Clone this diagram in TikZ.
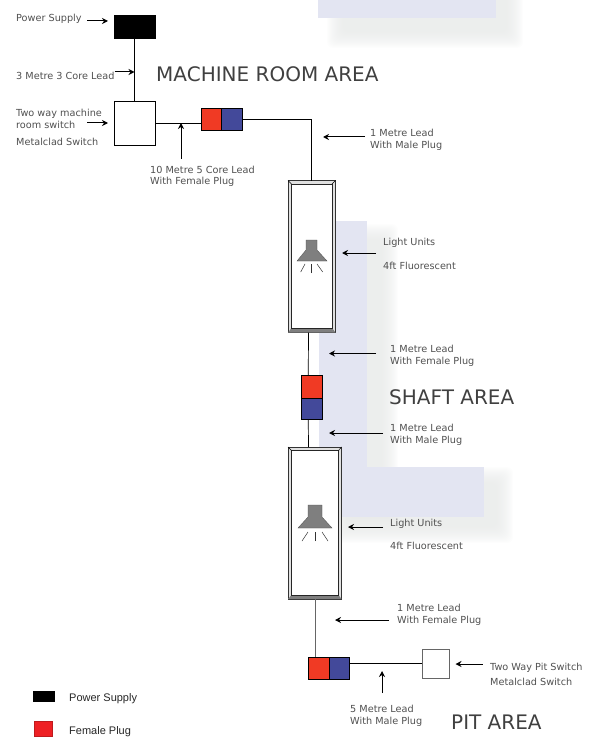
\documentclass[tikz,border=0pt]{standalone}
\usepackage{fontspec}
\setmainfont{DejaVu Sans}
\newfontfamily\legendfont{Liberation Sans}
\usetikzlibrary{arrows.meta}
\definecolor{plugred}{HTML}{F03A24}
\definecolor{plugblue}{HTML}{43499A}
\definecolor{legendred}{HTML}{EE2024}
\definecolor{areablue}{HTML}{E3E5F2}
\definecolor{shadowgrey}{HTML}{E6E8E7}
\definecolor{notegrey}{HTML}{505050}
\definecolor{bevelgrey}{HTML}{7F7F7F}
\tikzset{
  note/.style={anchor=west, inner sep=0pt, yshift=-.8pt, align=left, text=notegrey, font=\fontsize{9.7}{11.8}\selectfont},
  area/.style={anchor=west, inner sep=0pt, text=black!75, font=\fontsize{20}{22}\selectfont},
  legend/.style={anchor=west, inner sep=0pt, yshift=-1.5pt, text=black!85, font=\legendfont\fontsize{11}{13}\selectfont},
  box/.style={draw=black, line width=.7pt, fill=white, anchor=north west, inner sep=0pt, outer sep=0pt},
  plug/.style={draw=black, line width=.7pt, anchor=north west, inner sep=0pt, outer sep=0pt},
  frame/.style={draw=black!80, line width=.7pt, fill=black!12, anchor=north west, inner sep=0pt, outer sep=0pt},
  pane/.style={draw=black!85, line width=.7pt, fill=white, anchor=north west, inner sep=0pt, outer sep=0pt},
  lead/.style={line width=.7pt, black},
  point/.style={line width=1pt, -{Stealth[length=6pt, width=6pt]}, black},
  lamp/.style={fill=bevelgrey, draw=black!70, line width=.3pt},
  ray/.style={line width=.5pt, black!80}
}
\newcommand{\softshadow}[4]{%
  \foreach \d in {0,1,...,16}
    \fill[shadowgrey, opacity=.08, rounded corners=6pt] (#1+\d,#2+\d) rectangle (#3-\d,#4-\d);
}
\begin{document}
\begin{tikzpicture}[x=1pt, y=-1pt]
  \useasboundingbox (0,0) rectangle (599,738);
  % shaded area blocks
  \softshadow{327}{-20}{523}{48}
  \softshadow{342}{224}{398}{525}
  \softshadow{330}{467}{513}{543}
  \fill[areablue] (318,0) rectangle (496,18);
  \fill[areablue] (319,221) rectangle (367,467);
  \fill[areablue] (319,467) rectangle (484,517);

  % machine room
  \node[box, fill=black, minimum width=41pt, minimum height=23pt] (power) at (114,15) {};
  \node[box, minimum width=41pt, minimum height=44pt] (mswitch) at (114,101) {};
  \node[plug, fill=plugred, minimum width=20.5pt, minimum height=21.5pt] (mred) at (201,108.5) {};
  \node[plug, fill=plugblue, minimum width=20.5pt, minimum height=21.5pt] (mblue) at (221.5,108.5) {};

  % first light unit
  \node[frame, minimum width=47.5pt, minimum height=152pt] (lightA) at (288,180.5) {};
  \fill[bevelgrey] (lightA.south west) -- (291.5,328) -- (332,328) -- (lightA.south east) -- cycle;
  \node[pane, minimum width=40.5pt, minimum height=144pt] (paneA) at (291.5,184) {};
  \draw[line width=.5pt] (lightA.north west) -- (paneA.north west);
  \draw[line width=.5pt] (lightA.north east) -- (paneA.north east);
  \fill[lamp] (306,240) -- (317,240) -- (317,250) -- (327,261) -- (297,261) -- (306,250) -- cycle;
  \draw[ray] (300.7,272) -- (305,264);
  \draw[ray] (311.5,273) -- (311.5,264);
  \draw[ray] (322.7,272) -- (317,264);

  % shaft plug
  \node[plug, fill=plugred, minimum width=21pt, minimum height=23pt] (sred) at (301,375) {};
  \node[plug, fill=plugblue, minimum width=21pt, minimum height=21pt] (sblue) at (301,398) {};

  % second light unit
  \node[frame, minimum width=53.5pt, minimum height=152pt] (lightB) at (288,447) {};
  \fill[bevelgrey] (lightB.south west) -- (291.5,595) -- (338.5,595) -- (lightB.south east) -- cycle;
  \node[pane, minimum width=47pt, minimum height=144.5pt] (paneB) at (291.5,450.5) {};
  \draw[line width=.5pt] (lightB.north west) -- (paneB.north west);
  \draw[line width=.5pt] (lightB.north east) -- (paneB.north east);
  \fill[lamp] (308,505) -- (322,505) -- (322,517) -- (332,528) -- (298,528) -- (308,517) -- cycle;
  \draw[ray] (302,541) -- (308,532);
  \draw[ray] (315,541) -- (315,532);
  \draw[ray] (328,541) -- (322,532);

  % pit
  \node[plug, fill=plugred, minimum width=20.5pt, minimum height=22pt] (pred) at (308.5,657) {};
  \node[plug, fill=plugblue, minimum width=20.5pt, minimum height=22pt] (pblue) at (329,657) {};
  \node[box, draw=black!60, minimum width=27pt, minimum height=29pt] (pswitch) at (422,649) {};

  % wiring
  \draw[lead] (power) -- (mswitch);
  \draw[lead] (mswitch.east) -- (mswitch.east -| mred.west);
  \draw[lead] (mblue.east) -| (lightA.north);
  \draw[lead] ([xshift=-3.25pt]lightA.south) -- ([xshift=-3.25pt]sred.north);
  \draw[lead] ([xshift=-3.25pt]sblue.south) -- ([xshift=-6.25pt]lightB.north);
  \draw[lead, black!60, line width=1pt] ([xshift=.25pt]lightB.south) -- ([xshift=.25pt]lightB.south |- pred.north);
  \draw[lead] (pblue.east |- pswitch.west) -- (pswitch.west);

  % labels
  \node[note] (psnote) at (16,18) {Power Supply};
  \node[note] (leadnote) at (16,75.5) {3 Metre 3 Core Lead};
  \node[note] (waynote) at (16,118) {Two way machine\\room switch};
  \node[note] (cladnote) at (16,141) {Metalclad Switch};
  \node[note] (tennote) at (150,175.5) {10 Metre 5 Core Lead\\With Female Plug};
  \node[note] (malenote) at (370,139) {1 Metre Lead\\With Male Plug};
  \node[note] (unitA) at (383,242) {Light Units};
  \node[note] (tubeA) at (383,265) {4ft Fluorescent};
  \node[note] (femA) at (390,355) {1 Metre Lead\\With Female Plug};
  \node[note] (maleA) at (390,434) {1 Metre Lead\\With Male Plug};
  \node[note] (unitB) at (390,523) {Light Units};
  \node[note] (tubeB) at (390,545) {4ft Fluorescent};
  \node[note] (femB) at (397,614) {1 Metre Lead\\With Female Plug};
  \node[note] (pitnote) at (490,667) {Two Way Pit Switch};
  \node[note] (pitclad) at (490,681) {Metalclad Switch};
  \node[note] (fivenote) at (350,715) {5 Metre Lead\\With Male Plug};
  \node[area] (machine) at (156,74) {MACHINE ROOM AREA};
  \node[area] (shaft) at (389,397) {SHAFT AREA};
  \node[area] (pit) at (451,722) {PIT AREA};

  % pointers
  \coordinate (psfrom) at (87,21);
  \coordinate (psto) at (108,21);
  \draw[point] (psfrom) -- (psto);
  \coordinate (leadto) at (134.5,72);
  \draw[point] (leadnote.east |- leadto) -- (leadto);
  \coordinate (wayfrom) at (87,123);
  \coordinate (wayto) at (108,123);
  \draw[point] (wayfrom) -- (wayto);
  \coordinate (tenfrom) at (181,159);
  \coordinate (tento) at (181,123);
  \draw[point] (tenfrom) -- (tento);
  \coordinate (malefrom) at (365,137);
  \coordinate (maleto) at (323,137);
  \draw[point] (malefrom) -- (maleto);
  \coordinate (unitAfrom) at (376,253);
  \coordinate (unitAto) at (342,253);
  \draw[point] (unitAfrom) -- (unitAto);
  \coordinate (femAfrom) at (376,353.5);
  \coordinate (femAto) at (329,353.5);
  \draw[point] (femAfrom) -- (femAto);
  \coordinate (maleAfrom) at (383,433);
  \coordinate (maleAto) at (329,433);
  \draw[point] (maleAfrom) -- (maleAto);
  \coordinate (unitBfrom) at (383,527);
  \coordinate (unitBto) at (348,527);
  \draw[point] (unitBfrom) -- (unitBto);
  \coordinate (femBfrom) at (389,620);
  \coordinate (femBto) at (335,620);
  \draw[point] (femBfrom) -- (femBto);
  \coordinate (pitfrom) at (482.5,664);
  \coordinate (pitto) at (455.5,664);
  \draw[point] (pitfrom) -- (pitto);
  \coordinate (fivefrom) at (382,693);
  \coordinate (fiveto) at (382,671);
  \draw[point] (fivefrom) -- (fiveto);

  % legend
  \node[box, fill=black, minimum width=21pt, minimum height=10pt] (keypower) at (33,691) {};
  \node[legend] (keypowertext) at (69,697) {Power Supply};
  \node[box, draw=legendred!80!black, fill=legendred, minimum width=18pt, minimum height=15pt] (keyfemale) at (34,721) {};
  \node[legend] (keyfemaletext) at (69,730.5) {Female Plug};
\end{tikzpicture}
\end{document}
